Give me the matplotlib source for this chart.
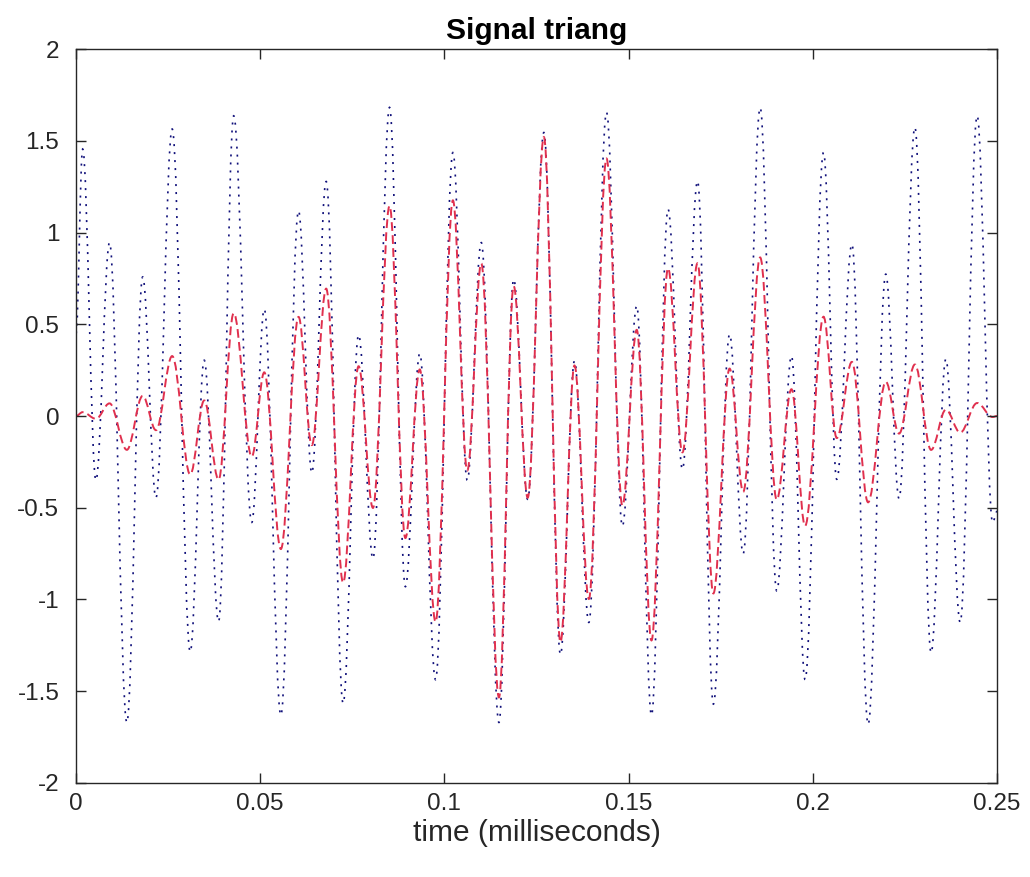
import matplotlib
matplotlib.use("Agg")
import matplotlib.pyplot as plt
from matplotlib.path import Path
from matplotlib.patches import PathPatch
import numpy as np

plt.rcParams['font.family'] = ['Liberation Sans', 'DejaVu Sans']
plt.rcParams['axes.unicode_minus'] = False

# Signal extrema (time in ms, amplitude)
t_ms = [0.0, 0.0018, 0.0054, 0.0091, 0.0138, 0.0181, 0.0217, 0.0261, 0.0310, 0.0348,
        0.0387, 0.0428, 0.0477, 0.0511, 0.0556, 0.0604, 0.0640, 0.0679, 0.0725, 0.0767,
        0.0806, 0.0851, 0.0894, 0.0933, 0.0976, 0.1023, 0.1062, 0.1100, 0.1148, 0.1188,
        0.1226, 0.1270, 0.1315, 0.1353, 0.1392, 0.1440, 0.1483, 0.1522, 0.1562, 0.1607,
        0.1646, 0.1687, 0.1730, 0.1774, 0.1811, 0.1857, 0.1902, 0.1942, 0.1979, 0.2029,
        0.2065, 0.2106, 0.2150, 0.2198, 0.2234, 0.2277, 0.2321, 0.2361, 0.2400, 0.2446,
        0.2488, 0.2500]
signal = [0.45, 1.455, -0.35, 0.945, -1.67, 0.758, -0.445, 1.564, -1.285, 0.304,
          -1.12, 1.636, -0.58, 0.582, -1.63, 1.118, -0.31, 1.278, -1.566, 0.442,
          -0.777, 1.682, -0.93, 0.34, -1.437, 1.436, -0.35, 0.945, -1.67, 0.745,
          -0.454, 1.545, -1.30, 0.30, -1.125, 1.655, -0.60, 0.60, -1.63, 1.127,
          -0.29, 1.28, -1.57, 0.445, -0.75, 1.68, -0.953, 0.327, -1.437, 1.436,
          -0.345, 0.936, -1.68, 0.773, -0.45, 1.573, -1.29, 0.31, -1.125, 1.636,
          -0.58, -0.52]

x_ticks = [0, 0.05, 0.1, 0.15, 0.2, 0.25]
x_ticklabels = ['0', '0.05', '0.1', '0.15', '0.2', '0.25']
y_ticks = [-2, -1.5, -1, -0.5, 0, 0.5, 1, 1.5, 2]
y_ticklabels = ['-2', '-1.5', '-1', '-0.5', '0', '0.5', '1', '1.5', '2']

t = np.array(t_ms)
x = np.array(signal)
# triangular window applied to the signal
T = t[-1]
window = 1.0 - np.abs(t - T / 2) / (T / 2)
xw = x * window


def smooth_path(tt, yy, k=0.3642):
    """Cubic Bezier path through the extrema with flat tangents at each one."""
    verts = [(tt[0], yy[0])]
    codes = [Path.MOVETO]
    for i in range(len(tt) - 1):
        d = tt[i + 1] - tt[i]
        verts += [(tt[i] + k * d, yy[i]), (tt[i + 1] - k * d, yy[i + 1]),
                  (tt[i + 1], yy[i + 1])]
        codes += [Path.CURVE4] * 3
    return Path(verts, codes)


fig = plt.figure(figsize=(10.30, 8.77), dpi=100)
ax = fig.add_axes([0.0738, 0.1072, 0.8942, 0.8369])

ax.add_patch(PathPatch(smooth_path(t, x), facecolor='none', edgecolor='#10107a',
                       linewidth=1.2, linestyle=(0, (1.2, 3.6))))
ax.add_patch(PathPatch(smooth_path(t, xw), facecolor='none', edgecolor='#e0304e',
                       linewidth=1.4, linestyle=(0, (4.5, 2.2))))

ax.set_xlim(0, 0.25)
ax.set_ylim(-2, 2)
ax.set_xticks(x_ticks)
ax.set_xticklabels(x_ticklabels)
ax.set_yticks(y_ticks)
ax.set_yticklabels(y_ticklabels)

axcol = '#262626'
for s in ax.spines.values():
    s.set_color(axcol)
    s.set_linewidth(1.0)
ax.tick_params(direction='in', length=7, width=1.0, colors=axcol,
               top=True, right=True, labelsize=17.5)
ax.tick_params(axis='x', pad=7)
ax.tick_params(axis='y', pad=12)
ax.set_xlabel('time (milliseconds)', fontsize=21.5, color=axcol, labelpad=3)
ax.set_title('Signal triang', fontsize=21.5, fontweight='bold', color='black', pad=7)

fig.savefig('out.png', dpi=100)
